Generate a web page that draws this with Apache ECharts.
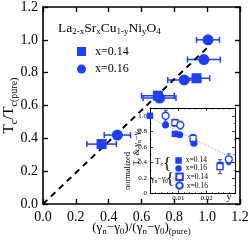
<!DOCTYPE html>
<html><head><meta charset="utf-8">
<script src="https://cdn.jsdelivr.net/npm/echarts@6/dist/echarts.min.js"></script>
<style>html,body{margin:0;padding:0;background:#fff}#c{width:249px;height:240px}</style>
</head><body><div id="c"></div>
<script>
// ---- main panel data: (gamma_n-gamma_0)/(..)_pure vs Tc/Tc(pure) ----
const sqX   = [0.935, 0.70, 0.357];
const sqY   = [0.766, 0.66, 0.365];
const sqErr = [0.08, 0.10, 0.09];
const ciX   = [1.005, 0.98, 0.86, 0.71, 0.453];
const ciY   = [1.00, 0.88, 0.756, 0.645, 0.42];
const ciErr = [0.07, 0.10, 0.10, 0.10, 0.08];
const fitX  = [0, 1.02];
const fitY  = [0, 0.97];

// ---- inset data: normalized value vs Ni content y ----
const tcSqNi = [0, 0.0088, 0.0155, 0.0248];
const tcSqV  = [1.0, 0.766, 0.66, 0.365];
const tcCiNi = [0.0055, 0.0105, 0.0155, 0.0278];
const tcCiV  = [0.88, 0.756, 0.645, 0.42];
const gSqNi  = [0.0088, 0.0152, 0.0247];
const gSqV   = [0.91, 0.71, 0.345];
const gSqErr = [0.045, 0.05, 0.09];
const gCiNi  = [0.0055, 0.0107, 0.0278];
const gCiV   = [1.0, 0.88, 0.44];
const gCiErr = [0.07, 0.05, 0.07];
const trendNi = [0, 0.028];
const trendV  = [0.98, 0.475];

const F = 'Liberation Serif';
const BLUE = '#1f3ff5';
const zip = (a, b, c) => a.map((v, i) => c ? [v, b[i], c[i]] : [v, b[i]]);

function errBars(xs, ys, es, dir, xi, yi, cap, lw, z) {
  return {
    type: 'custom', xAxisIndex: xi, yAxisIndex: yi, z: z, silent: true,
    data: zip(xs, ys, es),
    renderItem: function (params, api) {
      const x = api.value(0), y = api.value(1), e = api.value(2);
      let p1, p2, caps;
      if (dir === 'x') {
        p1 = api.coord([x - e, y]); p2 = api.coord([x + e, y]);
        caps = [[p1[0], p1[1] - cap, p1[0], p1[1] + cap], [p2[0], p2[1] - cap, p2[0], p2[1] + cap]];
      } else {
        p1 = api.coord([x, y - e]); p2 = api.coord([x, y + e]);
        caps = [[p1[0] - cap, p1[1], p1[0] + cap, p1[1]], [p2[0] - cap, p2[1], p2[0] + cap, p2[1]]];
      }
      const st = { stroke: BLUE, lineWidth: lw };
      const ch = [{ type: 'line', shape: { x1: p1[0], y1: p1[1], x2: p2[0], y2: p2[1] }, style: st }];
      caps.forEach(c => ch.push({ type: 'line', shape: { x1: c[0], y1: c[1], x2: c[2], y2: c[3] }, style: st }));
      return { type: 'group', children: ch };
    }
  };
}

const mainAxisCommon = {
  min: 0, max: 1.2, interval: 0.2,
  axisLine: { show: true, onZero: false, lineStyle: { color: '#000', width: 1.6 } },
  axisTick: { show: true, inside: true, length: 5, lineStyle: { color: '#000', width: 1.4 } },
  splitLine: { show: false }
};
const insetAxisCommon = {
  axisLine: { show: true, onZero: false, lineStyle: { color: '#000', width: 1 } },
  axisTick: { show: true, inside: true, length: 3, lineStyle: { color: '#000', width: 0.8 } },
  minorTick: { show: true, splitNumber: 5, length: 1.5, lineStyle: { color: '#000', width: 0.6 } },
  splitLine: { show: false }, z: 4
};
const sub = (fs, pad) => ({ fontSize: fs, fontFamily: F, padding: [pad, 0, 0, 0], color: '#000' });

const option = {
  animation: false,
  backgroundColor: '#fff',
  grid: [
    { left: 43, right: 9, top: 7, bottom: 36, outerBoundsMode: 'none', containLabel: false },
    { left: 150, right: 14, top: 108, bottom: 46.5, show: true, backgroundColor: '#fff', borderWidth: 0, z: 3,
      outerBoundsMode: 'none', containLabel: false }
  ],
  xAxis: [
    Object.assign({}, mainAxisCommon, {
      type: 'value', gridIndex: 0, position: 'bottom',
      axisLabel: { fontFamily: F, fontSize: 14, color: '#000', margin: 6, formatter: v => v.toFixed(1) },
      name: '(γ{s|n}−γ{s|0})/(γ{s|n}−γ{s|0}){s|(pure)}', nameLocation: 'middle', nameGap: 15, nameMoveOverlap: false,
      nameTextStyle: { fontFamily: F, fontSize: 13, color: '#000', rich: { s: sub(9, 8) } }
    }),
    Object.assign({}, mainAxisCommon, { type: 'value', gridIndex: 0, position: 'top', axisLabel: { show: false } }),
    Object.assign({}, insetAxisCommon, {
      type: 'value', gridIndex: 1, position: 'bottom', min: 0, max: 0.03, interval: 0.01,
      axisLabel: { fontFamily: F, fontSize: 7, color: '#000', margin: 1, showMinLabel: false, showMaxLabel: false,
        formatter: v => v === 0 ? '0' : v.toFixed(2) }
    }),
    Object.assign({}, insetAxisCommon, {
      type: 'value', gridIndex: 1, position: 'top', min: 0, max: 0.03, interval: 0.01, axisLabel: { show: false }
    })
  ],
  yAxis: [
    Object.assign({}, mainAxisCommon, {
      type: 'value', gridIndex: 0, position: 'left',
      axisLabel: { fontFamily: F, fontSize: 14, color: '#000', margin: 5, formatter: v => v.toFixed(1) },
      name: 'T{s|c}/T{s|c(pure)}', nameLocation: 'middle', nameGap: 24, nameRotate: 90, nameMoveOverlap: false,
      nameTextStyle: { fontFamily: F, fontSize: 15, color: '#000', rich: { s: sub(10, 9) } }
    }),
    Object.assign({}, mainAxisCommon, { type: 'value', gridIndex: 0, position: 'right', axisLabel: { show: false } }),
    Object.assign({}, insetAxisCommon, {
      type: 'value', gridIndex: 1, position: 'left', min: 0, max: 1.1, interval: 0.2,
      minorTick: Object.assign({}, insetAxisCommon.minorTick, { splitNumber: 2 }),
      axisLabel: { fontFamily: F, fontSize: 7, color: '#000', margin: 3, showMaxLabel: false,
        formatter: v => v === 0 ? '0' : v.toFixed(1) }
    }),
    Object.assign({}, insetAxisCommon, {
      type: 'value', gridIndex: 1, position: 'right', min: 0, max: 1.1, interval: 0.2,
      minorTick: Object.assign({}, insetAxisCommon.minorTick, { splitNumber: 2 }),
      axisLabel: { show: false }
    })
  ],
  legend: [
    { data: ['x=0.14', 'x=0.16'], orient: 'vertical', left: 77, top: 45.5, padding: 0,
      itemWidth: 9, itemHeight: 9, itemGap: 5.5, selectedMode: false,
      textStyle: { fontFamily: F, fontSize: 12, lineHeight: 12, color: '#000', padding: [0, 0, 0, 4] } },
    { data: ['Tc x=0.14', 'Tc x=0.16'], orient: 'vertical', left: 175.3, top: 156.5, padding: 0,
      itemWidth: 6.5, itemHeight: 6.5, itemGap: 0, selectedMode: false,
      formatter: n => n.split(' ').pop(),
      textStyle: { fontFamily: F, fontSize: 7.5, lineHeight: 7, color: '#000', padding: [0, 0, 0, -1] } },
    { data: ['g x=0.14', 'g x=0.16'], orient: 'vertical', left: 175.3, top: 172.5, padding: 0,
      itemWidth: 6.5, itemHeight: 6.5, itemGap: 0.3, selectedMode: false,
      formatter: n => n.split(' ').pop(),
      textStyle: { fontFamily: F, fontSize: 7.5, lineHeight: 7, color: '#000', padding: [0, 0, 0, -1] } }
  ],
  series: [
    { type: 'line', xAxisIndex: 0, yAxisIndex: 0, data: zip(fitX, fitY), showSymbol: false, silent: true, z: 2,
      lineStyle: { color: '#000', width: 2, type: [6, 5] } },
    errBars(sqX, sqY, sqErr, 'x', 0, 0, 3, 1.5, 2),
    errBars(ciX, ciY, ciErr, 'x', 0, 0, 3, 1.5, 2),
    { name: 'x=0.14', type: 'scatter', xAxisIndex: 0, yAxisIndex: 0, symbol: 'rect', symbolSize: 10,
      data: zip(sqX, sqY), itemStyle: { color: BLUE, opacity: 1 }, z: 2 },
    { name: 'x=0.16', type: 'scatter', xAxisIndex: 0, yAxisIndex: 0, symbol: 'circle', symbolSize: 11,
      data: zip(ciX, ciY), itemStyle: { color: BLUE, opacity: 1 }, z: 2 },

    { type: 'line', xAxisIndex: 2, yAxisIndex: 2, data: zip(trendNi, trendV), showSymbol: false, silent: true, z: 5,
      lineStyle: { color: '#777', width: 0.8, type: [1, 1.5] } },
    { name: 'Tc x=0.14', type: 'scatter', xAxisIndex: 2, yAxisIndex: 2, symbol: 'rect', symbolSize: 6.5,
      data: zip(tcSqNi, tcSqV), itemStyle: { color: BLUE, opacity: 1 }, z: 6 },
    { name: 'Tc x=0.16', type: 'scatter', xAxisIndex: 2, yAxisIndex: 2, symbol: 'circle', symbolSize: 7,
      data: zip(tcCiNi, tcCiV), itemStyle: { color: BLUE, opacity: 1 }, z: 6 },
    errBars(gSqNi, gSqV, gSqErr, 'y', 2, 2, 2, 1, 7),
    errBars(gCiNi, gCiV, gCiErr, 'y', 2, 2, 2, 1, 7),
    { name: 'g x=0.14', type: 'scatter', xAxisIndex: 2, yAxisIndex: 2, symbol: 'rect', symbolSize: 6,
      data: zip(gSqNi, gSqV), itemStyle: { color: '#fff', borderColor: BLUE, borderWidth: 1.3, opacity: 1 }, z: 8 },
    { name: 'g x=0.16', type: 'scatter', xAxisIndex: 2, yAxisIndex: 2, symbol: 'circle', symbolSize: 7,
      data: zip(gCiNi, gCiV), itemStyle: { color: '#fff', borderColor: BLUE, borderWidth: 1.3, opacity: 1 }, z: 8 }
  ],
  graphic: [
    { type: 'text', x: 58, y: 28, z: 20, silent: true,
      style: { text: 'La{s|2-x}Sr{s|x}Cu{s|1-y}Ni{s|y}O{s|4}', fontFamily: F, fontSize: 13.5, fill: '#000',
        verticalAlign: 'middle', rich: { s: sub(9, 8) } } },
    { type: 'text', x: 155, y: 162, z: 20, silent: true,
      style: { text: 'T{s|c}', fontFamily: F, fontSize: 9, fill: '#000', verticalAlign: 'middle', rich: { s: sub(6, 5) } } },
    { type: 'text', x: 167, y: 165, z: 20, silent: true,
      style: { text: '{', fontFamily: F, fontSize: 17, fill: '#000', align: 'center', verticalAlign: 'middle' } },
    { type: 'text', x: 151, y: 179, z: 20, silent: true,
      style: { text: 'γ{s|n}−γ{s|0}', fontFamily: F, fontSize: 8, fill: '#000', verticalAlign: 'middle', rich: { s: sub(5.5, 5) } } },
    { type: 'text', x: 170, y: 180, z: 20, silent: true,
      style: { text: '{', fontFamily: F, fontSize: 17, fill: '#000', align: 'center', verticalAlign: 'middle' } },
    { type: 'text', x: 229, y: 197.5, z: 20, silent: true,
      style: { text: 'y', fontFamily: F, fontSize: 10, fill: '#000', align: 'center', verticalAlign: 'middle' } },
    { type: 'text', x: 128, y: 171, rotation: Math.PI / 2, z: 20, silent: true,
      style: { text: 'normalized', fontFamily: F, fontSize: 8.5, fill: '#000', align: 'center', verticalAlign: 'middle' } },
    { type: 'text', x: 137, y: 147, rotation: Math.PI / 2, z: 20, silent: true,
      style: { text: 'T{s|c} & γ{s|n}−γ{s|0}', fontFamily: F, fontSize: 8.5, fill: '#000', align: 'center',
        verticalAlign: 'middle', rich: { s: sub(6, 5) } } }
  ]
};

const chart = echarts.init(document.getElementById('c'), null, { renderer: 'canvas' });
chart.setOption(option);
</script>
</body></html>
